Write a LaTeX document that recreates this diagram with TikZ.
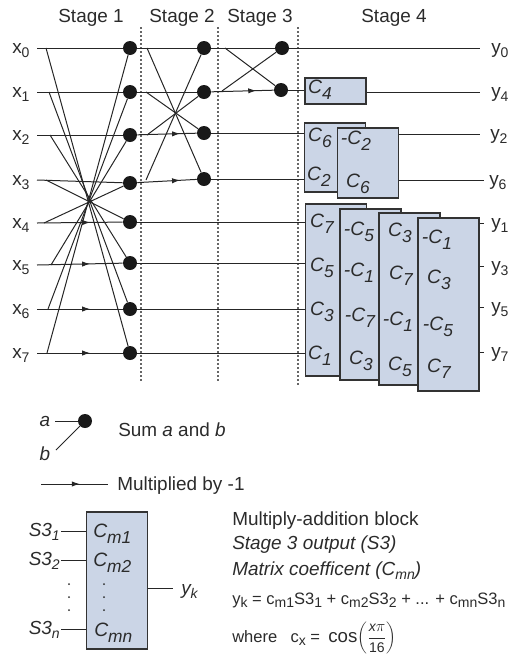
\documentclass[tikz,border=0pt]{standalone}
\usepackage{fontspec}
\setmainfont{Liberation Sans}
\usetikzlibrary{arrows.meta,decorations.markings}
\definecolor{blockblue}{HTML}{CBD5E6}
\definecolor{inkgray}{HTML}{2B2B2B}
\newcommand{\dn}[1]{\raisebox{-0.45ex}{\fontsize{10.5}{12}\selectfont #1}}
\newcommand{\coef}[2]{{\fontsize{14.5}{16}\selectfont\itshape #1\raisebox{-0.6ex}{\fontsize{13}{14}\selectfont #2}}}
\tikzset{
  txt/.style={inner sep=0pt,text=inkgray,font=\fontsize{14.2}{16}\selectfont},
  itxt/.style={txt,font=\fontsize{14.2}{16}\selectfont\itshape},
  sumdot/.style={circle,fill=black!90,inner sep=0pt,minimum size=10.5pt},
  stageline/.style={dash pattern=on 1.5pt off 1.5pt,line width=0.9pt,black!60},
  wire/.style={line width=0.75pt,black!85},
  neg/.style={postaction={decorate},decoration={markings,
    mark=at position #1 with {\arrow{Latex[length=6pt,width=4pt]}}}},
  coefbox/.style={draw=black!80,fill=blockblue,line width=0.9pt,inner sep=0pt,
    minimum width=45.75pt,minimum height=#1}
}
\begin{document}
\begin{tikzpicture}[x=0.75pt,y=-0.75pt]
  \useasboundingbox (0,0) rectangle (516,654);
  \node[txt,anchor=base] (st1) at (91,22) {Stage 1};
  \node[txt,anchor=base] (st2) at (182,22) {Stage 2};
  \node[txt,anchor=base] (st3) at (260,22) {Stage 3};
  \node[txt,anchor=base] (st4) at (394,22) {Stage 4};
  \foreach \x/\yend in {141/383,218/383,298/387}{\draw[stageline] (\x,27) -- (\x,\yend);}

  \foreach \i/\y/\ya/\tx in {0/48/48/46,1/92/92/49,2/135/135/50,3/180/183/46,4/223/222/44,5/265/263/51,6/309/309/48,7/353/353/47}{
    \node[txt,anchor=base west] (x\i) at (12,\y+5) {x\dn{\i}};
    \coordinate (i\i) at (37,\y);
    \coordinate (t\i) at (\tx,\y);
    \coordinate (g\i) at (305.5,\ya);
    \node[sumdot] (a\i) at (130,\ya) {};
  }
  \foreach \i in {0,1,2,3}{\draw[wire] (i\i) -- (a\i);}
  \foreach \i in {4,5,6,7}{
    \draw[wire,neg=0.62] (i\i) -- (a\i);
    \draw[wire] (a\i) -- (g\i);
  }
  \foreach \i/\j in {0/7,1/6,2/5,3/4,4/3,5/2,6/1,7/0}{\draw[wire] (t\i) -- (a\j);}

  \node[sumdot] (b0) at (204,48) {};
  \node[sumdot] (b1) at (204,92) {};
  \node[sumdot] (b2) at (204,133) {};
  \node[sumdot] (b3) at (204,179) {};
  \draw[wire] (a0) -- (b0);
  \draw[wire] (a1) -- (b1);
  \draw[wire,neg=0.72] (a2) -- (b2);
  \draw[wire,neg=0.72] (a3) -- (b3);
  \coordinate (u0) at (147,48);
  \coordinate (u1) at (146,92);
  \coordinate (u2) at (147,135);
  \coordinate (u3) at (146,180);
  \foreach \i/\j in {0/3,1/2,2/1,3/0}{\draw[wire] (u\i) -- (b\j);}

  \node[sumdot] (d0) at (282,48) {};
  \node[sumdot] (d1) at (281,90) {};
  \draw[wire] (b0) -- (d0);
  \draw[wire,neg=0.72] (b1) -- (d1);
  \coordinate (v0) at (225,48);
  \coordinate (v1) at (222,91);
  \draw[wire] (v0) -- (d1);
  \draw[wire] (v1) -- (d0);

  \node[txt,anchor=base west] (y0) at (491,53) {y\dn{0}};
  \coordinate (o0) at (480,48);
  \draw[wire] (d0) -- (o0);

  \node[coefbox=19.5pt] (m4) at (335.5,91) {};
  \node[txt] (k4) at (320,90) {\coef{C}{4}};
  \coordinate (o4) at (480,92);
  \node[txt,anchor=base west] (y4) at (491,97) {y\dn{4}};
  \draw[wire] (d1) -- (m4.west |- d1);
  \draw[wire] (m4.east |- o4) -- (o4);

  \node[coefbox=51.75pt] (m26) at (335,157.5) {};
  \node[txt] (k6a) at (320,138) {\coef{C}{6}};
  \node[txt] (k2a) at (319,177) {\coef{C}{2}};
  \node[coefbox=52.5pt] (m62) at (368,163) {};
  \node[txt] (k2b) at (356,141) {\coef{-C}{2}};
  \node[txt] (k6b) at (358,184) {\coef{C}{6}};
  \coordinate (o2) at (480,134);
  \coordinate (o6) at (484,180);
  \node[txt,anchor=base west] (y2) at (490,139) {y\dn{2}};
  \node[txt,anchor=base west] (y6) at (489,185) {y\dn{6}};
  \draw[wire] (b2) -- (m26.west |- b2);
  \draw[wire] (b3) -- (m26.west |- b3);
  \draw[wire] (m62.east |- o2) -- (o2);
  \draw[wire] (m62.east |- o6) -- (o6);

  \node[coefbox=129pt] (ma) at (336,290) {};
  \node[txt] (ka7) at (322,224) {\coef{C}{7}};
  \node[txt] (ka5) at (322,268) {\coef{C}{5}};
  \node[txt] (ka3) at (322,312) {\coef{C}{3}};
  \node[txt] (ka1) at (320,356) {\coef{C}{1}};
  \node[coefbox=128.25pt] (mb) at (370.5,294.5) {};
  \node[txt] (kb5) at (359,232) {\coef{-C}{5}};
  \node[txt] (kb1) at (359,273) {\coef{-C}{1}};
  \node[txt] (kb7) at (360,318) {\coef{-C}{7}};
  \node[txt] (kb3) at (361,361) {\coef{C}{3}};
  \node[coefbox=129pt] (mc) at (409.5,299) {};
  \node[txt] (kc3) at (400,233) {\coef{C}{3}};
  \node[txt] (kc7) at (401,276) {\coef{C}{7}};
  \node[txt] (kc1) at (398,322) {\coef{-C}{1}};
  \node[txt] (kc5) at (400,367) {\coef{C}{5}};
  \node[coefbox=129.75pt] (md) at (448.5,304.5) {};
  \node[txt] (kd1) at (437,240) {\coef{-C}{1}};
  \node[txt] (kd3) at (439,280) {\coef{C}{3}};
  \node[txt] (kd5) at (438,327) {\coef{-C}{5}};
  \node[txt] (kd7) at (439,369) {\coef{C}{7}};
  \foreach \n/\y in {1/223,3/266,5/307,7/352}{
    \coordinate (o\n) at (484,\y);
    \node[txt,anchor=base west] (y\n) at (491,\y+5) {y\dn{\n}};
    \draw[wire] (md.east |- o\n) -- (o\n);
  }

  \node[itxt,anchor=base] (la) at (45,426) {a};
  \node[itxt,anchor=base] (lb) at (45,460) {b};
  \node[sumdot] (s) at (85,421) {};
  \coordinate (sa) at (55,421);
  \coordinate (sb) at (56,450);
  \draw[wire] (sa) -- (s);
  \draw[wire] (sb) -- (s);
  \node[txt,anchor=base west] (sumtxt) at (118,436) {Sum \textit{a} and \textit{b}};
  \coordinate (n0) at (41,484);
  \coordinate (n1) at (108,484);
  \draw[wire,neg=0.58] (n0) -- (n1);
  \node[txt,anchor=base west] (negtxt) at (117,490) {Multiplied by -1};

  \node[coefbox=102.75pt] (mab) at (117,580.5) {};
  \foreach \n/\s/\y in {1/1/531,2/2/560,3/n/629}{
    \coordinate (l\n) at (61,\y);
    \node[itxt,anchor=base east] (s\n) at (60,\y+5) {S3\dn{\s}};
    \draw[wire] (l\n) -- (mab.west |- l\n);
  }
  \node[txt,anchor=base west] (cm1) at (93,537) {\coef{C}{m1}};
  \node[txt,anchor=base west] (cm2) at (93,566) {\coef{C}{m2}};
  \node[txt,anchor=base west] (cmn) at (94,636) {\coef{C}{mn}};
  \foreach \y in {584,597,610}{
    \fill[inkgray] (69,\y) circle (1);
    \fill[inkgray] (104,\y) circle (1);
  }
  \coordinate (yk0) at (173,588);
  \draw[wire] (mab.east |- yk0) -- (yk0);
  \node[itxt,anchor=base west] (yk) at (181,594) {y\dn{k}};

  \node[txt,anchor=base west] (ma1) at (232,525) {Multiply-addition block};
  \node[itxt,anchor=base west] (ma2) at (232,549) {Stage 3 output (S3)};
  \node[itxt,anchor=base west] (ma3) at (232,575) {Matrix coefficent (C\dn{mn})};
  \node[txt,anchor=base west,font=\fontsize{12.4}{16}\selectfont] (ma4) at (232,604) {y\dn{k} = c\dn{m1}S3\dn{1} + c\dn{m2}S3\dn{2} + ... + c\dn{mn}S3\dn{n}};
  \node[txt,anchor=base west,font=\fontsize{12.4}{16}\selectfont] (ma5) at (232,642) {where\hspace{0.8em}c\dn{x} =\hspace{0.5em}{\fontsize{14}{16}\selectfont cos}$\displaystyle\left(\frac{\mbox{\fontsize{10.5}{12}\selectfont\itshape x}\pi}{\mbox{\fontsize{10.5}{12}\selectfont 16}}\right)$};
\end{tikzpicture}
\end{document}
